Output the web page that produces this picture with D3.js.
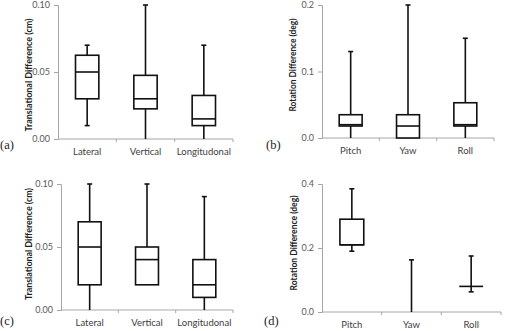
<!DOCTYPE html>
<html>
<head>
<meta charset="utf-8">
<script src="https://cdn.jsdelivr.net/npm/d3@7"></script>
<style>
  body { margin: 0; background: #fff; }
  svg { display: block; }
  .tick-text { font-family: Lato, "Open Sans", sans-serif; font-size: 9px; fill: #595959; }
  .cat-text { font-family: Lato, "Open Sans", sans-serif; font-size: 9.5px; fill: #404040; }
  .ylab { font-family: Lato, "Open Sans", sans-serif; font-size: 9px; font-weight: bold; fill: #222; }
  .letter { font-family: "Liberation Serif", "DejaVu Serif", serif; font-size: 12.5px; fill: #222; }
</style>
</head>
<body>
<svg id="fig" width="505" height="331"></svg>
<script>
// categories
var transCats = ["Lateral", "Vertical", "Longitudonal"];
var rotCats = ["Pitch", "Yaw", "Roll"];

// five numbers per category: [low whisker, q1, median, q3, high whisker]; null q1 = no box
var statsA = [[0.01, 0.03, 0.05, 0.0625, 0.07],
              [0.0, 0.0225, 0.03, 0.0475, 0.10],
              [0.0, 0.01, 0.015, 0.0325, 0.07]];
var statsB = [[0.0, 0.018, 0.02, 0.035, 0.13],
              [0.0, 0.0, 0.018, 0.035, 0.20],
              [0.0, 0.018, 0.02, 0.053, 0.15]];
var statsC = [[0.0, 0.02, 0.05, 0.07, 0.10],
              [0.02, 0.02, 0.04, 0.05, 0.10],
              [0.0, 0.01, 0.02, 0.04, 0.09]];
var statsD = [[0.19, 0.21, 0.21, 0.29, 0.385],
              [0.0, null, null, null, 0.163],
              [0.063, 0.08, 0.08, 0.08, 0.175]];

var ticksTrans = [0, 0.05, 0.10];
var ticksRot1 = [0, 0.1, 0.2];
var ticksRot2 = [0, 0.2, 0.4];

var svg = d3.select("#fig");

function drawPanel(cfg) {
    var g = svg.append("g");
    var x = d3.scaleBand().domain(cfg.cats).range([cfg.left, cfg.right]);
    var y = d3.scaleLinear().domain([0, cfg.max]).range([cfg.bottom, cfg.top]);

    // y axis
    var yAxis = g.append("g")
        .attr("transform", "translate(" + cfg.left + ",0)")
        .call(d3.axisLeft(y).tickValues(cfg.ticks).tickFormat(d3.format(cfg.fmt)).tickSize(4).tickPadding(4));
    yAxis.select(".domain").attr("stroke", "#a6a6a6");
    yAxis.selectAll(".tick line").attr("stroke", "#a6a6a6");
    yAxis.selectAll("text").attr("class", "tick-text").attr("font-family", null).attr("font-size", null).attr("fill", null);

    // x axis with ticks at band edges
    var xAxis = g.append("g")
        .attr("transform", "translate(0," + cfg.bottom + ")");
    xAxis.append("line")
        .attr("x1", cfg.left).attr("x2", cfg.right)
        .attr("stroke", "#a6a6a6");
    xAxis.selectAll(".edge")
        .data(cfg.cats.slice(1).concat(["__end"]))
        .enter().append("line")
        .attr("x1", function(d) { return d === "__end" ? cfg.right : x(d); })
        .attr("x2", function(d) { return d === "__end" ? cfg.right : x(d); })
        .attr("y1", 0).attr("y2", 3)
        .attr("stroke", "#a6a6a6");
    xAxis.selectAll(".cat")
        .data(cfg.cats)
        .enter().append("text")
        .attr("class", "cat-text")
        .attr("x", function(d) { return x(d) + x.bandwidth() / 2; })
        .attr("y", 16)
        .attr("text-anchor", "middle")
        .text(function(d) { return d; });

    // boxes
    var bw = x.bandwidth() * 0.4, cap = 5;
    cfg.stats.forEach(function(s, i) {
        var cx = x(cfg.cats[i]) + x.bandwidth() / 2;
        var bg = g.append("g").attr("stroke", "#111").attr("stroke-width", 1.6).attr("fill", "none");
        // upper whisker
        if (s[1] !== null) {
            bg.append("line").attr("x1", cx).attr("x2", cx).attr("y1", y(s[3])).attr("y2", y(s[4]));
        } else {
            bg.append("line").attr("x1", cx).attr("x2", cx).attr("y1", y(s[0])).attr("y2", y(s[4]));
        }
        bg.append("line").attr("x1", cx - cap / 2).attr("x2", cx + cap / 2).attr("y1", y(s[4])).attr("y2", y(s[4]));
        // lower whisker
        if (s[1] !== null && s[0] < s[1]) {
            bg.append("line").attr("x1", cx).attr("x2", cx).attr("y1", y(s[0])).attr("y2", y(s[1]));
            if (s[0] > 0) bg.append("line").attr("x1", cx - cap / 2).attr("x2", cx + cap / 2).attr("y1", y(s[0])).attr("y2", y(s[0]));
        } else if (s[1] === null && s[0] > 0) {
            bg.append("line").attr("x1", cx - cap / 2).attr("x2", cx + cap / 2).attr("y1", y(s[0])).attr("y2", y(s[0]));
        }
        if (s[1] !== null) {
            bg.append("rect")
                .attr("x", cx - bw / 2).attr("width", bw)
                .attr("y", y(s[3])).attr("height", y(s[1]) - y(s[3]))
                .attr("fill", "#fff");
            bg.append("line").attr("x1", cx - bw / 2).attr("x2", cx + bw / 2).attr("y1", y(s[2])).attr("y2", y(s[2]));
        }
    });

    // y label
    g.append("text")
        .attr("class", "ylab")
        .attr("transform", "translate(" + cfg.labX + "," + cfg.labY + ") rotate(-90)")
        .attr("text-anchor", "middle")
        .attr("textLength", cfg.labLen)
        .attr("lengthAdjust", "spacingAndGlyphs")
        .text(cfg.label);

    g.append("text")
        .attr("class", "letter")
        .attr("x", cfg.letterX).attr("y", cfg.letterY)
        .text(cfg.letter);
}

drawPanel({ cats: transCats, stats: statsA, max: 0.10, ticks: ticksTrans, fmt: ".2f",
    left: 58, right: 233, top: 5, bottom: 139, labX: 32, labY: 75, labLen: 113,
    label: "Translational Difference (cm)",
    letter: "(a)", letterX: 0, letterY: 149 });
drawPanel({ cats: rotCats, stats: statsB, max: 0.2, ticks: ticksRot1, fmt: ".1f",
    left: 322, right: 494, top: 5, bottom: 138, labX: 296, labY: 65, labLen: 93,
    label: "Rotation Difference (deg)",
    letter: "(b)", letterX: 266, letterY: 149 });
drawPanel({ cats: transCats, stats: statsC, max: 0.10, ticks: ticksTrans, fmt: ".2f",
    left: 61, right: 233, top: 184, bottom: 310, labX: 32, labY: 244, labLen: 112,
    label: "Translational Difference (cm)",
    letter: "(c)", letterX: 0, letterY: 325 });
drawPanel({ cats: rotCats, stats: statsD, max: 0.4, ticks: ticksRot2, fmt: ".1f",
    left: 322, right: 501, top: 184, bottom: 312, labX: 297, labY: 243, labLen: 95,
    label: "Rotation Difference (deg)",
    letter: "(d)", letterX: 264, letterY: 325 });
</script>
</body>
</html>
